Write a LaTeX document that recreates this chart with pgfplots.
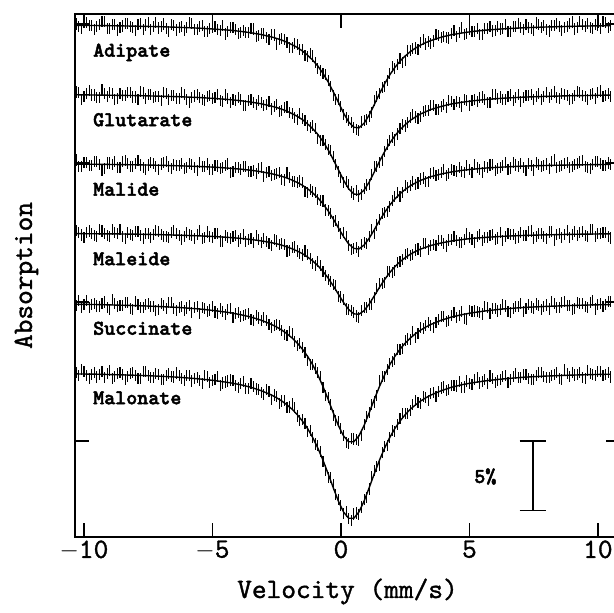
\documentclass[border=0pt]{standalone}
\usepackage{fontspec}
\usepackage{pgfplots}
\pgfplotsset{compat=1.18}
\usepackage{pgfplotstable}
\newfontfamily\labelfont{lmmonolt10-bold.otf}[FakeBold=2.2]
\newfontfamily\axisfont{lmmono10-regular.otf}[FakeBold=1.2]
\begin{document}
\pgfplotstableread{
v A G Ml Me S Mo
-10.3 30.00 25.11 20.22 15.12 9.74 4.93
-10.1 29.70 24.60 19.72 14.82 9.64 5.13
-9.9 30.10 25.00 20.01 15.02 10.13 4.72
-9.7 29.89 24.89 19.81 14.91 9.82 4.81
-9.5 29.79 24.69 20.11 14.71 9.72 4.61
-9.3 30.18 25.29 19.50 15.11 9.91 5.00
-9.1 29.68 24.78 20.00 14.80 9.60 4.89
-8.9 29.97 24.98 19.90 15.20 10.19 4.48
-8.7 29.57 24.67 19.69 14.90 9.68 4.87
-8.5 29.86 24.87 20.09 14.69 9.77 4.76
-8.3 30.06 25.06 19.98 14.99 9.96 4.65
-8.1 29.75 24.75 19.78 14.78 9.45 4.94
-7.9 29.94 24.55 20.17 15.08 9.84 4.53
-7.7 29.63 25.04 19.66 14.57 9.63 5.01
-7.5 30.13 24.93 19.86 14.96 9.91 4.70
-7.3 29.82 24.72 19.95 14.86 9.70 4.58
-7.1 29.71 24.81 19.54 15.05 9.48 4.77
-6.9 30.00 25.10 20.03 14.74 9.77 4.45
-6.7 29.49 24.59 19.72 14.63 9.95 4.83
-6.5 29.88 24.88 19.91 15.12 9.53 4.61
-6.3 29.76 24.67 19.80 14.81 9.61 4.69
-6.1 29.55 24.96 19.59 14.70 9.38 4.36
-5.9 30.13 24.34 19.98 14.89 9.76 4.73
-5.7 29.62 24.82 19.67 14.58 9.63 4.51
-5.5 29.80 24.71 20.05 15.16 9.20 4.37
-5.3 29.48 24.49 19.74 14.65 9.56 4.74
-5.1 29.66 24.87 19.52 14.73 9.43 4.20
-4.9 29.83 24.74 19.80 14.91 9.28 4.45
-4.7 29.51 24.52 19.58 14.39 9.54 4.01
-4.5 29.28 24.89 19.85 14.77 9.09 4.25
-4.3 29.75 24.36 19.32 14.54 9.53 4.39
-4.1 29.61 24.52 19.69 14.81 9.17 4.02
-3.9 29.37 24.58 19.56 14.58 8.99 4.15
-3.7 29.42 24.14 19.72 14.34 9.11 3.76
-3.5 29.67 24.58 19.38 14.60 8.72 4.17
-3.3 29.11 24.23 19.23 14.76 9.01 3.75
-3.1 29.34 24.36 19.67 14.30 8.69 3.52
-2.9 29.06 24.18 19.31 14.34 8.66 3.68
-2.7 29.27 23.89 19.13 14.07 8.19 3.01
-2.5 28.56 24.19 19.24 14.39 8.40 3.21
-2.3 28.94 23.77 18.84 14.19 7.98 2.88
-2.1 28.69 24.03 19.32 13.67 7.62 2.40
-1.9 28.31 23.55 18.67 13.93 7.71 2.69
-1.7 28.51 23.16 18.60 13.67 6.85 1.80
-1.5 28.16 23.22 18.60 13.38 6.71 1.54
-1.3 27.66 22.72 17.85 13.44 5.80 0.71
-1.1 27.70 22.67 17.95 12.76 5.49 0.26
-0.9 26.78 21.76 17.40 12.92 4.96 -0.30
-0.7 26.45 21.65 17.27 12.21 3.83 -1.47
-0.5 25.94 20.95 16.56 11.63 3.11 -2.64
-0.3 24.83 20.46 15.78 11.27 1.84 -3.15
-0.1 24.57 19.42 15.44 10.37 1.42 -4.22
0.1 23.50 18.57 15.01 10.17 0.37 -5.20
0.3 23.06 18.45 14.08 9.47 -0.15 -5.55
0.5 22.57 17.77 13.86 9.25 0.15 -5.25
0.7 22.33 17.63 13.62 8.92 0.07 -5.30
0.9 23.06 18.15 14.30 9.58 1.22 -4.22
1.1 23.36 18.43 14.69 9.86 2.04 -3.45
1.3 24.51 19.76 14.91 10.35 2.81 -2.14
1.5 24.99 20.02 15.96 11.36 4.33 -1.77
1.7 25.50 20.82 16.45 11.42 4.66 -0.40
1.9 26.44 21.64 16.87 12.22 5.59 0.26
2.1 26.78 21.66 17.62 12.25 5.90 0.71
2.3 27.53 22.50 17.59 12.90 6.61 1.64
2.5 27.40 22.66 18.40 13.39 7.25 2.00
2.7 28.11 23.27 18.36 13.34 7.31 2.19
2.9 28.27 23.31 18.47 13.74 7.42 2.90
3.1 28.68 23.33 18.85 13.61 8.18 2.68
3.3 28.56 23.79 18.69 14.24 8.30 3.11
3.5 28.61 24.15 19.22 14.07 8.29 3.41
3.7 29.24 23.87 19.13 14.07 8.56 3.18
3.9 29.05 24.07 19.31 14.45 8.99 3.82
4.1 29.04 23.97 19.09 14.03 8.61 3.65
4.3 29.33 24.45 19.56 14.49 9.02 3.97
4.5 29.09 24.41 19.42 14.45 8.91 3.96
4.7 29.75 24.07 19.37 14.29 9.29 3.85
4.9 29.31 24.52 19.81 14.93 8.77 4.32
5.1 29.46 24.47 19.35 14.48 9.33 4.09
5.3 29.70 24.41 19.69 14.71 9.29 4.55
5.5 29.24 24.75 19.32 14.44 9.14 4.31
5.7 29.67 24.38 19.65 14.66 9.58 4.15
5.9 29.50 24.91 19.87 14.89 9.53 4.50
6.1 29.83 24.64 19.59 14.61 9.36 4.34
6.3 29.65 24.56 19.81 14.43 9.80 4.67
6.5 29.48 24.78 19.53 14.94 9.33 4.21
6.7 29.80 24.50 20.05 14.86 9.56 4.63
6.9 30.01 24.92 19.76 14.68 9.68 4.56
7.1 29.63 24.74 19.68 14.79 9.31 4.79
7.3 29.75 24.85 19.99 15.10 9.83 4.51
7.5 29.56 24.57 19.50 14.61 9.55 4.43
7.7 29.97 24.98 19.91 14.92 9.77 4.95
7.9 29.88 24.79 19.82 14.73 9.68 4.67
8.1 29.50 24.70 19.63 15.04 9.50 4.58
8.3 29.91 25.11 20.24 14.45 9.91 4.80
8.5 29.82 24.62 19.75 14.95 9.63 4.51
8.7 29.72 24.93 19.95 14.86 10.04 5.13
8.9 30.03 24.54 19.66 14.67 9.75 4.64
9.1 29.64 24.84 19.87 15.07 9.56 4.75
9.3 30.15 25.05 20.07 14.98 9.87 4.96
9.5 29.85 24.76 19.78 14.79 9.68 4.47
9.7 29.76 24.96 19.58 15.19 9.99 4.88
9.9 29.97 24.67 20.09 14.69 9.50 4.69
10.1 29.67 25.18 19.99 14.90 9.91 5.00
10.3 30.08 24.88 19.80 15.00 9.82 4.81
10.5 29.88 24.79 19.90 14.61 10.02 4.61
}\data
\pgfplotstableread{
v A G Ml Me S Mo
-10.2 29.80 25.10 19.72 15.02 10.14 4.73
-10.0 30.10 24.80 20.01 14.62 9.83 5.02
-9.8 29.89 25.19 19.81 15.11 9.62 4.51
-9.6 29.59 24.89 20.11 14.81 9.92 4.91
-9.4 29.98 24.69 19.90 15.21 9.71 4.80
-9.2 30.18 24.98 19.60 14.90 10.00 4.59
-9.0 29.67 25.08 20.00 14.70 9.49 5.08
-8.8 29.97 24.57 20.09 15.00 9.88 4.67
-8.6 29.76 24.97 19.69 15.19 9.77 4.96
-8.4 30.06 24.86 20.18 14.59 9.96 4.45
-8.2 29.85 25.05 19.78 14.88 9.55 4.84
-8.0 29.54 24.75 19.97 15.08 10.04 4.73
-7.8 30.03 25.14 19.86 14.77 9.63 4.52
-7.6 29.93 24.63 19.56 14.96 9.82 5.00
-7.4 29.62 24.92 20.05 14.66 9.70 4.59
-7.2 30.11 24.81 19.74 15.15 9.39 4.87
-7.0 29.80 24.50 19.93 14.84 9.87 4.46
-6.8 29.69 24.99 20.12 14.73 9.55 4.74
-6.6 29.98 24.88 19.61 15.02 9.94 4.62
-6.4 29.57 24.67 19.80 14.91 9.42 4.90
-6.2 29.85 25.06 19.99 14.50 9.69 4.47
-6.0 29.74 24.55 19.68 14.99 9.57 4.74
-5.8 30.02 24.73 19.87 14.78 9.24 4.32
-5.6 29.61 24.91 19.46 14.87 9.71 4.59
-5.4 29.89 24.60 19.74 14.55 9.58 4.15
-5.2 29.47 24.78 19.93 15.04 9.34 4.62
-5.0 29.74 24.65 19.51 14.62 9.70 4.37
-4.8 29.62 24.93 19.79 14.90 9.16 4.63
-4.6 29.89 24.40 19.66 14.38 9.31 4.18
-4.4 29.45 24.67 19.93 14.65 9.46 4.32
-4.2 29.73 24.54 19.40 14.72 8.90 4.35
-4.0 29.29 24.70 19.67 14.39 9.23 3.88
-3.8 29.54 24.16 19.74 14.86 9.05 4.30
-3.6 29.39 24.51 19.40 14.52 9.16 3.81
-3.4 29.64 24.35 19.45 14.28 8.66 3.91
-3.2 29.17 24.49 19.60 14.53 8.85 3.68
-3.0 29.30 24.12 19.04 14.57 8.92 3.35
-2.8 28.91 24.43 19.37 14.20 8.37 3.59
-2.6 29.21 24.04 19.18 14.53 8.29 3.31
-2.4 28.90 23.73 19.29 14.14 8.29 2.69
-2.2 28.87 24.00 18.78 14.13 7.65 2.95
-2.0 28.31 23.65 18.95 13.71 7.87 2.45
-1.8 28.62 23.26 18.69 13.96 7.14 2.40
-1.6 28.19 23.54 18.71 13.48 7.04 1.48
-1.4 27.72 23.08 17.98 13.67 6.36 1.28
-1.2 27.90 22.56 18.11 13.11 5.50 0.79
-1.0 27.20 22.48 17.89 12.60 5.23 -0.21
-0.8 26.63 21.61 17.29 12.62 4.66 -0.72
-0.6 26.36 21.36 16.62 11.88 3.28 -2.14
-0.4 25.50 20.92 16.38 11.46 2.62 -2.65
-0.2 24.56 19.90 15.86 11.17 1.47 -3.85
0.0 24.08 18.94 14.92 10.36 0.92 -4.64
0.2 23.26 18.64 14.73 9.50 -0.08 -5.07
0.4 22.92 17.92 13.79 9.38 0.20 -5.70
0.6 22.40 18.00 13.90 9.00 0.12 -5.17
0.8 22.95 17.75 14.12 9.42 0.42 -4.74
1.0 23.13 18.42 14.22 9.60 1.77 -4.05
1.2 23.63 19.19 15.20 9.84 2.62 -2.55
1.4 24.80 19.75 15.54 10.95 3.28 -1.84
1.6 25.46 20.18 16.36 11.35 4.66 -0.82
1.8 25.93 21.34 16.52 12.18 5.13 -0.31
2.0 26.92 21.81 17.31 12.14 5.70 0.79
2.2 27.11 22.09 17.91 12.83 6.56 1.18
2.4 27.22 22.79 17.85 13.05 6.64 1.98
2.6 28.06 22.92 18.23 13.52 7.34 2.00
2.8 28.24 23.49 18.67 13.44 7.87 2.65
3.0 28.18 23.22 18.56 13.82 7.75 2.75
3.2 28.87 23.71 18.92 14.18 8.09 3.20
3.4 28.74 23.77 18.66 13.80 8.50 2.91
3.6 28.78 24.11 19.28 14.12 8.18 3.50
3.8 29.20 23.82 19.17 14.41 8.73 3.55
4.0 29.10 24.22 19.55 14.19 8.95 3.89
4.2 28.99 24.51 19.23 14.46 8.67 3.71
4.4 29.56 24.18 19.49 14.72 9.27 4.02
4.6 29.42 24.34 19.65 14.27 9.05 4.31
4.8 29.27 24.60 19.29 14.51 8.83 3.89
5.0 29.64 24.15 19.53 14.66 9.40 4.16
5.2 29.48 24.59 19.87 14.30 9.36 4.42
5.4 29.22 24.73 19.51 14.83 9.22 4.18
5.6 29.66 24.57 19.74 14.65 9.66 4.43
5.8 29.79 24.38 19.86 14.78 9.19 4.68
6.0 29.51 24.93 19.48 14.50 9.55 4.22
6.2 29.64 24.75 19.70 15.02 9.48 4.46
6.4 29.97 24.57 20.02 14.74 9.72 4.69
6.6 29.49 24.89 19.64 14.85 9.25 4.41
6.8 29.81 24.71 19.86 14.57 9.67 4.85
7.0 29.72 24.43 19.97 14.99 9.90 4.58
7.2 29.94 24.85 19.49 14.80 9.52 4.80
7.4 29.65 24.96 19.80 15.11 9.64 4.42
7.6 30.07 24.78 20.01 14.71 9.86 4.74
7.8 29.78 24.57 19.72 14.93 9.48 4.96
8.0 29.59 25.10 19.93 14.54 9.79 4.58
8.2 29.91 24.91 20.14 15.05 10.01 4.69
8.4 30.02 24.71 19.65 14.85 9.61 4.91
8.6 29.52 25.03 19.85 14.66 9.94 4.42
8.8 29.83 24.84 20.06 15.17 9.75 4.84
9.0 30.14 24.64 19.77 14.87 9.46 4.95
9.2 29.75 25.15 19.97 14.78 9.97 4.76
9.4 29.95 24.86 20.18 15.09 9.88 4.57
9.6 30.06 24.56 19.68 14.69 9.59 5.08
9.8 29.67 24.97 19.89 15.19 10.10 4.79
10.0 29.87 25.08 20.09 14.90 9.81 5.00
10.2 30.18 24.77 19.80 15.00 9.71 4.70
10.4 29.77 24.99 20.00 14.71 10.02 4.92
}\dataB
\pgfplotstableread{
v A G Ml Me S Mo
-10.3 29.90 24.91 19.92 14.92 9.84 4.83
-9.5 29.89 24.89 19.91 14.91 9.82 4.81
-8.7 29.87 24.87 19.89 14.90 9.78 4.77
-7.9 29.84 24.85 19.87 14.88 9.74 4.73
-7.1 29.81 24.81 19.84 14.85 9.68 4.67
-6.3 29.76 24.77 19.80 14.81 9.61 4.59
-5.5 29.70 24.71 19.75 14.76 9.50 4.47
-4.9 29.63 24.64 19.70 14.71 9.38 4.35
-4.3 29.55 24.56 19.62 14.64 9.23 4.19
-3.9 29.47 24.48 19.56 14.58 9.09 4.05
-3.5 29.37 24.38 19.48 14.50 8.92 3.87
-3.1 29.24 24.26 19.37 14.40 8.69 3.62
-2.7 29.07 24.09 19.23 14.27 8.39 3.31
-2.5 28.96 23.99 19.14 14.19 8.20 3.11
-2.3 28.84 23.87 19.04 14.09 7.98 2.88
-2.1 28.69 23.73 18.92 13.97 7.72 2.60
-1.9 28.51 23.55 18.77 13.83 7.41 2.29
-1.7 28.31 23.36 18.60 13.67 7.05 1.90
-1.5 28.06 23.12 18.40 13.48 6.61 1.44
-1.3 27.76 22.82 18.15 13.24 6.10 0.91
-1.1 27.40 22.47 17.85 12.96 5.49 0.26
-0.9 26.98 22.06 17.50 12.62 4.76 -0.50
-0.7 26.45 21.55 17.07 12.21 3.93 -1.37
-0.5 25.84 20.95 16.56 11.73 3.01 -2.34
-0.3 25.13 20.26 15.98 11.17 2.04 -3.35
-0.1 24.37 19.52 15.34 10.57 1.12 -4.32
0.1 23.60 18.77 14.71 9.97 0.37 -5.10
0.3 22.96 18.15 14.18 9.47 -0.05 -5.55
0.5 22.57 17.77 13.86 9.15 -0.05 -5.55
0.7 22.53 17.73 13.82 9.12 0.37 -5.10
0.9 22.86 18.05 14.10 9.38 1.12 -4.32
1.1 23.46 18.63 14.59 9.86 2.04 -3.35
1.3 24.21 19.36 15.21 10.45 3.01 -2.34
1.5 24.99 20.12 15.86 11.06 3.93 -1.37
1.7 25.70 20.82 16.45 11.62 4.76 -0.50
1.9 26.34 21.44 16.97 12.12 5.49 0.26
2.1 26.88 21.96 17.42 12.55 6.10 0.91
2.3 27.33 22.40 17.79 12.90 6.61 1.44
2.5 27.70 22.76 18.10 13.19 7.05 1.90
2.7 28.01 23.07 18.36 13.44 7.41 2.29
2.9 28.27 23.31 18.57 13.64 7.72 2.60
3.1 28.48 23.53 18.75 13.81 7.98 2.88
3.3 28.66 23.69 18.89 13.94 8.20 3.11
3.5 28.81 23.85 19.02 14.07 8.39 3.31
3.9 29.05 24.07 19.21 14.25 8.69 3.62
4.3 29.23 24.25 19.36 14.39 8.92 3.87
4.7 29.35 24.37 19.47 14.49 9.09 4.05
5.1 29.46 24.47 19.55 14.58 9.23 4.19
5.7 29.57 24.58 19.65 14.66 9.38 4.35
6.3 29.65 24.66 19.71 14.73 9.50 4.47
7.1 29.73 24.74 19.78 14.79 9.61 4.59
7.9 29.78 24.79 19.82 14.83 9.68 4.67
8.9 29.83 24.84 19.86 14.87 9.75 4.74
9.7 29.86 24.86 19.88 14.89 9.79 4.78
10.5 29.88 24.89 19.90 14.91 9.82 4.81
}\fit
\begin{tikzpicture}
\useasboundingbox (-75pt,-76pt) rectangle (539pt,537pt);
\begin{axis}[
  scale only axis, width=545pt, height=523pt,
  xmin=-10.35, xmax=10.86, ymin=-6.9, ymax=30.72,
  xtick={-10,-5,0,5,10}, xticklabels={$-$10,$-$5,0,5,10},
  ytick={0,10,20,30}, yticklabels={},
  tick align=inside, major tick length=14pt,
  axis line style={line width=1.3pt},
  every tick/.style={black, line width=1.2pt},
  tick label style={font=\fontsize{28}{30}\axisfont},
  xlabel={Velocity (mm/s)}, ylabel={Absorption},
  label style={font=\fontsize{28}{30}\axisfont},
  xlabel style={at={(axis description cs:0.5,0)},anchor=base,yshift=-61pt},
  ylabel style={at={(axis description cs:-0.079,0.5)},anchor=base},
  errstyle/.style={draw=none, mark=none, forget plot,
    error bars/.cd, y dir=both, y fixed=0.4, error mark=none,
    error bar style={draw=black, line width=1.1pt}},
  fitstyle/.style={black, line width=1.4pt, mark=none},
]
\addplot[errstyle] table[x=v,y=A]{\data};
\addplot[errstyle] table[x=v,y=G]{\data};
\addplot[errstyle] table[x=v,y=Ml]{\data};
\addplot[errstyle] table[x=v,y=Me]{\data};
\addplot[errstyle] table[x=v,y=S]{\data};
\addplot[errstyle] table[x=v,y=Mo]{\data};
\addplot[errstyle] table[x=v,y=A]{\dataB};
\addplot[errstyle] table[x=v,y=G]{\dataB};
\addplot[errstyle] table[x=v,y=Ml]{\dataB};
\addplot[errstyle] table[x=v,y=Me]{\dataB};
\addplot[errstyle] table[x=v,y=S]{\dataB};
\addplot[errstyle] table[x=v,y=Mo]{\dataB};
\addplot[fitstyle] table[x=v,y=A]{\fit};
\addplot[fitstyle] table[x=v,y=G]{\fit};
\addplot[fitstyle] table[x=v,y=Ml]{\fit};
\addplot[fitstyle] table[x=v,y=Me]{\fit};
\addplot[fitstyle] table[x=v,y=S]{\fit};
\addplot[fitstyle] table[x=v,y=Mo]{\fit};
% 5% scale bar
\addplot[black, line width=1.3pt] coordinates {(6.95,0) (7.99,0)};
\addplot[black, line width=1.3pt] coordinates {(7.47,0) (7.47,-5)};
\addplot[black, line width=1.3pt] coordinates {(6.95,-5) (7.99,-5)};
\node[font=\fontsize{21}{24}\labelfont] at (axis cs:5.62,-2.55) {5\%};
\node[anchor=base west, inner sep=0pt, font=\fontsize{21}{24}\labelfont] at (axis cs:-9.65,27.65) {Adipate};
\node[anchor=base west, inner sep=0pt, font=\fontsize{21}{24}\labelfont] at (axis cs:-9.65,22.65) {Glutarate};
\node[anchor=base west, inner sep=0pt, font=\fontsize{21}{24}\labelfont] at (axis cs:-9.65,17.65) {Malide};
\node[anchor=base west, inner sep=0pt, font=\fontsize{21}{24}\labelfont] at (axis cs:-9.65,12.65) {Maleide};
\node[anchor=base west, inner sep=0pt, font=\fontsize{21}{24}\labelfont] at (axis cs:-9.65,7.65) {Succinate};
\node[anchor=base west, inner sep=0pt, font=\fontsize{21}{24}\labelfont] at (axis cs:-9.65,2.65) {Malonate};
\end{axis}
\end{tikzpicture}
\end{document}
